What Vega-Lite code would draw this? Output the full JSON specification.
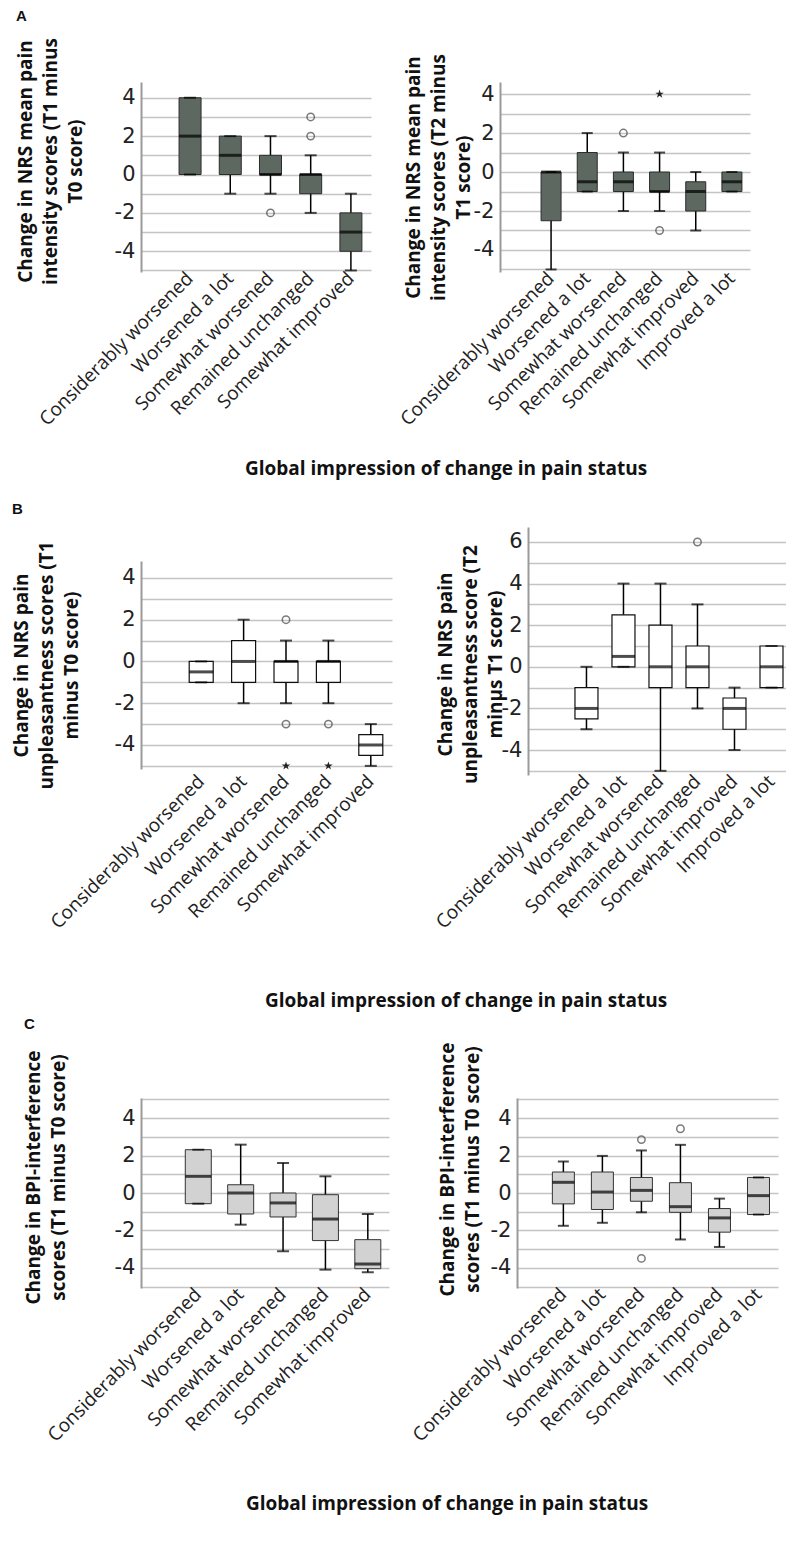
{
  "$schema": "https://vega.github.io/schema/vega-lite/v6.json",
  "padding": {"left": 12, "top": 8, "right": 0, "bottom": 0},
  "config": {
    "locale": {"number": {"decimal": ".", "thousands": ",", "grouping": [3], "currency": ["$", ""], "minus": "-"}},
    "view": {"stroke": null},
    "axisY": {"labelFont": "DejaVu Sans", "labelFontSize": 21, "labelColor": "#222", "labelPadding": 6, "labelOverlap": false, "ticks": false, "tickCount": 30, "format": "d", "domainColor": "#9a9a9a", "domainWidth": 2, "gridColor": "#c4c4c4", "gridWidth": 1.5, "titleFont": "Open Sans", "titleFontSize": 19, "titleFontWeight": "bold", "titleColor": "#111", "titleLineHeight": 25, "titlePadding": 14, "titleLimit": 1000},
    "axisX": {"labelFont": "Open Sans", "labelFontSize": 19, "labelColor": "#222", "labelAngle": -45, "labelAlign": "right", "labelBaseline": "middle", "labelPadding": 3, "labelLimit": 400, "labelOverlap": false, "ticks": false, "domain": false, "grid": false},
    "title": {"font": "Open Sans", "fontWeight": "bold", "fontSize": 19, "color": "#111"}
  },
  "datasets": {
    "aL": [
      {"cat": "Considerably worsened", "lower": 0, "q1": 0, "median": 2, "q3": 4, "upper": 4},
      {"cat": "Worsened a lot", "lower": -1, "q1": 0, "median": 1, "q3": 2, "upper": 2},
      {"cat": "Somewhat worsened", "lower": -1, "q1": 0, "median": 0, "q3": 1, "upper": 2},
      {"cat": "Remained unchanged", "lower": -2, "q1": -1, "median": 0, "q3": 0, "upper": 1},
      {"cat": "Somewhat improved", "lower": -5, "q1": -4, "median": -3, "q3": -2, "upper": -1}
    ],
    "aLo": [
      {"cat": "Somewhat worsened", "value": -2, "kind": "o"},
      {"cat": "Remained unchanged", "value": 2, "kind": "o"},
      {"cat": "Remained unchanged", "value": 3, "kind": "o"}
    ],
    "aR": [
      {"cat": "Considerably worsened", "lower": -5, "q1": -2.5, "median": 0, "q3": 0, "upper": 0},
      {"cat": "Worsened a lot", "lower": -1, "q1": -1, "median": -0.5, "q3": 1, "upper": 2},
      {"cat": "Somewhat worsened", "lower": -2, "q1": -1, "median": -0.5, "q3": 0, "upper": 1},
      {"cat": "Remained unchanged", "lower": -2, "q1": -1, "median": -1, "q3": 0, "upper": 1},
      {"cat": "Somewhat improved", "lower": -3, "q1": -2, "median": -1, "q3": -0.5, "upper": 0},
      {"cat": "Improved a lot", "lower": -1, "q1": -1, "median": -0.5, "q3": 0, "upper": 0}
    ],
    "aRo": [
      {"cat": "Somewhat worsened", "value": 2, "kind": "o"},
      {"cat": "Remained unchanged", "value": -3, "kind": "o"},
      {"cat": "Remained unchanged", "value": 4, "kind": "x"}
    ],
    "bL": [
      {"cat": "Considerably worsened", "lower": -1, "q1": -1, "median": -0.5, "q3": 0, "upper": 0},
      {"cat": "Worsened a lot", "lower": -2, "q1": -1, "median": 0, "q3": 1, "upper": 2},
      {"cat": "Somewhat worsened", "lower": -2, "q1": -1, "median": 0, "q3": 0, "upper": 1},
      {"cat": "Remained unchanged", "lower": -2, "q1": -1, "median": 0, "q3": 0, "upper": 1},
      {"cat": "Somewhat improved", "lower": -5, "q1": -4.5, "median": -4, "q3": -3.5, "upper": -3}
    ],
    "bLo": [
      {"cat": "Somewhat worsened", "value": 2, "kind": "o"},
      {"cat": "Somewhat worsened", "value": -3, "kind": "o"},
      {"cat": "Somewhat worsened", "value": -5, "kind": "x"},
      {"cat": "Remained unchanged", "value": -3, "kind": "o"},
      {"cat": "Remained unchanged", "value": -5, "kind": "x"}
    ],
    "bR": [
      {"cat": "Considerably worsened", "lower": -3, "q1": -2.5, "median": -2, "q3": -1, "upper": 0},
      {"cat": "Worsened a lot", "lower": 0, "q1": 0, "median": 0.5, "q3": 2.5, "upper": 4},
      {"cat": "Somewhat worsened", "lower": -5, "q1": -1, "median": 0, "q3": 2, "upper": 4},
      {"cat": "Remained unchanged", "lower": -2, "q1": -1, "median": 0, "q3": 1, "upper": 3},
      {"cat": "Somewhat improved", "lower": -4, "q1": -3, "median": -2, "q3": -1.5, "upper": -1},
      {"cat": "Improved a lot", "lower": -1, "q1": -1, "median": 0, "q3": 1, "upper": 1}
    ],
    "bRo": [
      {"cat": "Remained unchanged", "value": 6, "kind": "o"}
    ],
    "cL": [
      {"cat": "Considerably worsened", "lower": -0.57, "q1": -0.57, "median": 0.89, "q3": 2.31, "upper": 2.31},
      {"cat": "Worsened a lot", "lower": -1.69, "q1": -1.12, "median": 0, "q3": 0.44, "upper": 2.58},
      {"cat": "Somewhat worsened", "lower": -3.11, "q1": -1.28, "median": -0.53, "q3": 0, "upper": 1.6},
      {"cat": "Remained unchanged", "lower": -4.09, "q1": -2.54, "median": -1.39, "q3": -0.09, "upper": 0.89},
      {"cat": "Somewhat improved", "lower": -4.23, "q1": -4.04, "median": -3.79, "q3": -2.49, "upper": -1.12}
    ],
    "cR": [
      {"cat": "Considerably worsened", "lower": -1.75, "q1": -0.58, "median": 0.57, "q3": 1.12, "upper": 1.68},
      {"cat": "Worsened a lot", "lower": -1.59, "q1": -0.88, "median": 0.05, "q3": 1.12, "upper": 1.98},
      {"cat": "Somewhat worsened", "lower": -1.03, "q1": -0.44, "median": 0.14, "q3": 0.83, "upper": 2.27},
      {"cat": "Remained unchanged", "lower": -2.48, "q1": -1.03, "median": -0.73, "q3": 0.55, "upper": 2.57},
      {"cat": "Somewhat improved", "lower": -2.88, "q1": -2.09, "median": -1.33, "q3": -0.83, "upper": -0.3},
      {"cat": "Improved a lot", "lower": -1.15, "q1": -1.15, "median": -0.14, "q3": 0.83, "upper": 0.83}
    ],
    "cRo": [
      {"cat": "Somewhat worsened", "value": 2.85, "kind": "o"},
      {"cat": "Somewhat worsened", "value": -3.49, "kind": "o"},
      {"cat": "Remained unchanged", "value": 3.43, "kind": "o"}
    ]
  },
  "spacing": 4,
  "vconcat": [
    {
      "spacing": 22,
      "vconcat": [
        {
          "title": {"text": "A", "anchor": "start", "frame": "bounds", "font": "Liberation Sans", "fontSize": 15, "fontWeight": "bold", "offset": 14},
          "vconcat": [
            {
              "title": {"text": "Global impression of change in pain status", "orient": "bottom", "anchor": "middle", "frame": "group", "dx": 305, "offset": 31},
              "bounds": "flush",
              "spacing": 129,
              "hconcat": [
                {
                  "width": 230, "height": 190,
                  "data": {"name": "aL"},
                  "encoding": {"x": {"field": "cat", "type": "nominal", "title": null, "scale": {"domain": ["Considerably worsened", "Worsened a lot", "Somewhat worsened", "Remained unchanged", "Somewhat improved"], "paddingInner": 0, "paddingOuter": 0.36, "align": 1}}},
                  "layer": [
                    {"mark": {"type": "rule", "color": "#000", "strokeWidth": 1.5},
                     "encoding": {"y": {"field": "lower", "type": "quantitative", "scale": {"domain": [-5.08, 4.82], "nice": false, "zero": false},
                       "axis": {"title": ["Change in NRS mean pain", "intensity scores (T1 minus", "T0 score)"], "titleY": 79, "titlePadding": 29, "values": [-5, -4, -3, -2, -1, 0, 1, 2, 3, 4], "tickCount": 30, "labelExpr": "datum.value % 2 == 0 ? datum.label : ''"}},
                       "y2": {"field": "upper"}}},
                    {"mark": {"type": "bar", "size": 22, "fill": "#5d6861", "stroke": "#2b2b2b", "strokeWidth": 1},
                     "encoding": {"y": {"field": "q1", "type": "quantitative"}, "y2": {"field": "q3"}}},
                    {"mark": {"type": "tick", "size": 22, "thickness": 3, "color": "#000"},
                     "encoding": {"y": {"field": "median", "type": "quantitative"}}},
                    {"mark": {"type": "tick", "size": 12, "thickness": 2, "color": "#000"},
                     "encoding": {"y": {"field": "lower", "type": "quantitative"}}},
                    {"mark": {"type": "tick", "size": 12, "thickness": 2, "color": "#000"},
                     "encoding": {"y": {"field": "upper", "type": "quantitative"}}},
                    {"data": {"name": "aLo"},
                     "mark": {"type": "point", "shape": "circle", "filled": false, "size": 55, "stroke": "#444", "strokeWidth": 1.5},
                     "encoding": {"y": {"field": "value", "type": "quantitative"}}}
                  ]
                },
                {
                  "width": 250, "height": 190,
                  "data": {"name": "aR"},
                  "encoding": {"x": {"field": "cat", "type": "nominal", "title": null, "scale": {"domain": ["Considerably worsened", "Worsened a lot", "Somewhat worsened", "Remained unchanged", "Somewhat improved", "Improved a lot"], "paddingInner": 0, "paddingOuter": 0.456, "align": 1}}},
                  "layer": [
                    {"mark": {"type": "rule", "color": "#000", "strokeWidth": 1.5},
                     "encoding": {"y": {"field": "lower", "type": "quantitative", "scale": {"domain": [-5.13, 4.62], "nice": false, "zero": false},
                       "axis": {"title": ["Change in NRS mean pain", "intensity scores (T2 minus", "T1 score)"], "titlePadding": 0, "values": [-5, -4, -3, -2, -1, 0, 1, 2, 3, 4], "tickCount": 30, "labelExpr": "datum.value % 2 == 0 ? datum.label : ''"}},
                       "y2": {"field": "upper"}}},
                    {"mark": {"type": "bar", "size": 20, "fill": "#5d6861", "stroke": "#2b2b2b", "strokeWidth": 1},
                     "encoding": {"y": {"field": "q1", "type": "quantitative"}, "y2": {"field": "q3"}}},
                    {"mark": {"type": "tick", "size": 20, "thickness": 3, "color": "#000"},
                     "encoding": {"y": {"field": "median", "type": "quantitative"}}},
                    {"mark": {"type": "tick", "size": 11, "thickness": 2, "color": "#000"},
                     "encoding": {"y": {"field": "lower", "type": "quantitative"}}},
                    {"mark": {"type": "tick", "size": 11, "thickness": 2, "color": "#000"},
                     "encoding": {"y": {"field": "upper", "type": "quantitative"}}},
                    {"data": {"name": "aRo"}, "transform": [{"filter": "datum.kind === 'o'"}],
                     "mark": {"type": "point", "shape": "circle", "filled": false, "size": 55, "stroke": "#444", "strokeWidth": 1.5},
                     "encoding": {"y": {"field": "value", "type": "quantitative"}}},
                    {"data": {"name": "aRo"}, "transform": [{"filter": "datum.kind === 'x'"}],
                     "mark": {"type": "point", "shape": "M0,-1L0.2245,-0.309L0.951,-0.309L0.363,0.118L0.588,0.809L0,0.382L-0.588,0.809L-0.363,0.118L-0.951,-0.309L-0.2245,-0.309Z", "filled": true, "size": 80, "color": "#222", "opacity": 1},
                     "encoding": {"y": {"field": "value", "type": "quantitative"}}}
                  ]
                }
              ]
            }
          ]
        },
        {
          "title": {"text": "B", "anchor": "start", "frame": "bounds", "font": "Liberation Sans", "fontSize": 15, "fontWeight": "bold", "offset": 10},
          "vconcat": [
            {
              "title": {"text": "Global impression of change in pain status", "orient": "bottom", "anchor": "middle", "frame": "group", "dx": 325, "offset": 60},
              "bounds": "flush",
              "spacing": 136,
              "hconcat": [
                {
                  "width": 251, "height": 248,
                  "data": {"name": "bL"},
                  "encoding": {"x": {"field": "cat", "type": "nominal", "title": null, "scale": {"domain": ["Considerably worsened", "Worsened a lot", "Somewhat worsened", "Remained unchanged", "Somewhat improved"], "paddingInner": 0, "paddingOuter": 0.46, "align": 1}}},
                  "layer": [
                    {"mark": {"type": "rule", "color": "#000", "strokeWidth": 1.5},
                     "encoding": {"y": {"field": "lower", "type": "quantitative", "scale": {"domain": [-5.15, 4.81], "range": [242, 34], "nice": false, "zero": false},
                       "axis": {"title": ["Change in NRS pain", "unpleasantness scores (T1", "minus T0 score)"], "titlePadding": 33, "values": [-5, -4, -3, -2, -1, 0, 1, 2, 3, 4], "tickCount": 30, "labelExpr": "datum.value % 2 == 0 ? datum.label : ''"}},
                       "y2": {"field": "upper"}}},
                    {"mark": {"type": "bar", "size": 24, "fill": "#ffffff", "stroke": "#111", "strokeWidth": 1.2},
                     "encoding": {"y": {"field": "q1", "type": "quantitative"}, "y2": {"field": "q3"}}},
                    {"mark": {"type": "tick", "size": 24, "thickness": 3, "color": "#000"},
                     "encoding": {"y": {"field": "median", "type": "quantitative"}}},
                    {"mark": {"type": "tick", "size": 12, "thickness": 2, "color": "#000"},
                     "encoding": {"y": {"field": "lower", "type": "quantitative"}}},
                    {"mark": {"type": "tick", "size": 12, "thickness": 2, "color": "#000"},
                     "encoding": {"y": {"field": "upper", "type": "quantitative"}}},
                    {"data": {"name": "bLo"}, "transform": [{"filter": "datum.kind === 'o'"}],
                     "mark": {"type": "point", "shape": "circle", "filled": false, "size": 55, "stroke": "#444", "strokeWidth": 1.5},
                     "encoding": {"y": {"field": "value", "type": "quantitative"}}},
                    {"data": {"name": "bLo"}, "transform": [{"filter": "datum.kind === 'x'"}],
                     "mark": {"type": "point", "shape": "M0,-1L0.2245,-0.309L0.951,-0.309L0.363,0.118L0.588,0.809L0,0.382L-0.588,0.809L-0.363,0.118L-0.951,-0.309L-0.2245,-0.309Z", "filled": true, "size": 80, "color": "#222", "opacity": 1},
                     "encoding": {"y": {"field": "value", "type": "quantitative"}}}
                  ]
                },
                {
                  "width": 262, "height": 248,
                  "data": {"name": "bR"},
                  "encoding": {"x": {"field": "cat", "type": "nominal", "title": null, "scale": {"domain": ["Considerably worsened", "Worsened a lot", "Somewhat worsened", "Remained unchanged", "Somewhat improved", "Improved a lot"], "paddingInner": 0, "paddingOuter": 0.54, "align": 1}}},
                  "layer": [
                    {"mark": {"type": "rule", "color": "#000", "strokeWidth": 1.5},
                     "encoding": {"y": {"field": "lower", "type": "quantitative", "scale": {"domain": [-5.2, 6.72], "nice": false, "zero": false},
                       "axis": {"title": ["Change in NRS pain", "unpleasantness score (T2", "minμs T1 score)"], "titleY": 137, "titlePadding": -4, "values": [-5, -4, -3, -2, -1, 0, 1, 2, 3, 4, 5, 6], "tickCount": 30, "labelExpr": "datum.value % 2 == 0 ? datum.label : ''"}},
                       "y2": {"field": "upper"}}},
                    {"mark": {"type": "bar", "size": 23, "fill": "#ffffff", "stroke": "#111", "strokeWidth": 1.2},
                     "encoding": {"y": {"field": "q1", "type": "quantitative"}, "y2": {"field": "q3"}}},
                    {"mark": {"type": "tick", "size": 23, "thickness": 3, "color": "#000"},
                     "encoding": {"y": {"field": "median", "type": "quantitative"}}},
                    {"mark": {"type": "tick", "size": 12, "thickness": 2, "color": "#000"},
                     "encoding": {"y": {"field": "lower", "type": "quantitative"}}},
                    {"mark": {"type": "tick", "size": 12, "thickness": 2, "color": "#000"},
                     "encoding": {"y": {"field": "upper", "type": "quantitative"}}},
                    {"data": {"name": "bRo"},
                     "mark": {"type": "point", "shape": "circle", "filled": false, "size": 55, "stroke": "#444", "strokeWidth": 1.5},
                     "encoding": {"y": {"field": "value", "type": "quantitative"}}}
                  ]
                }
              ]
            }
          ]
        }
      ]
    },
    {
      "title": {"text": "C", "anchor": "start", "frame": "bounds", "font": "Liberation Sans", "fontSize": 15, "fontWeight": "bold", "offset": 10},
      "vconcat": [
        {
          "title": {"text": "Global impression of change in pain status", "orient": "bottom", "anchor": "middle", "frame": "group", "dx": 306, "offset": 50},
          "bounds": "flush",
          "spacing": 128,
          "hconcat": [
            {
              "width": 248, "height": 190,
              "data": {"name": "cL"},
              "encoding": {"x": {"field": "cat", "type": "nominal", "title": null, "scale": {"domain": ["Considerably worsened", "Worsened a lot", "Somewhat worsened", "Remained unchanged", "Somewhat improved"], "paddingInner": 0, "paddingOuter": 0.426, "align": 1}}},
              "layer": [
                {"mark": {"type": "rule", "color": "#000", "strokeWidth": 1.5},
                 "encoding": {"y": {"field": "lower", "type": "quantitative", "scale": {"domain": [-5.07, 5.07], "nice": false, "zero": false},
                   "axis": {"title": ["Change in BPI-interference", "scores (T1 minus T0 score)"], "titleY": 79, "titlePadding": 46, "values": [-5, -4, -3, -2, -1, 0, 1, 2, 3, 4, 5], "tickCount": 30, "labelExpr": "datum.value % 2 == 0 ? datum.label : ''"}},
                   "y2": {"field": "upper"}}},
                {"mark": {"type": "bar", "size": 26, "fill": "#d2d2d2", "stroke": "#333", "strokeWidth": 1},
                 "encoding": {"y": {"field": "q1", "type": "quantitative"}, "y2": {"field": "q3"}}},
                {"mark": {"type": "tick", "size": 26, "thickness": 3, "color": "#000"},
                 "encoding": {"y": {"field": "median", "type": "quantitative"}}},
                {"mark": {"type": "tick", "size": 12, "thickness": 2, "color": "#000"},
                 "encoding": {"y": {"field": "lower", "type": "quantitative"}}},
                {"mark": {"type": "tick", "size": 12, "thickness": 2, "color": "#000"},
                 "encoding": {"y": {"field": "upper", "type": "quantitative"}}}
              ]
            },
            {
              "width": 261, "height": 190,
              "data": {"name": "cR"},
              "encoding": {"x": {"field": "cat", "type": "nominal", "title": null, "scale": {"domain": ["Considerably worsened", "Worsened a lot", "Somewhat worsened", "Remained unchanged", "Somewhat improved", "Improved a lot"], "paddingInner": 0, "paddingOuter": 0.344, "align": 1}}},
              "layer": [
                {"mark": {"type": "rule", "color": "#000", "strokeWidth": 1.5},
                 "encoding": {"y": {"field": "lower", "type": "quantitative", "scale": {"domain": [-5.07, 5.07], "nice": false, "zero": false},
                   "axis": {"title": ["Change in BPI-interference", "scores (T1 minus T0 score)"], "titleY": 71, "titlePadding": 8, "values": [-5, -4, -3, -2, -1, 0, 1, 2, 3, 4, 5], "tickCount": 30, "labelExpr": "datum.value % 2 == 0 ? datum.label : ''"}},
                   "y2": {"field": "upper"}}},
                {"mark": {"type": "bar", "size": 22, "fill": "#d2d2d2", "stroke": "#333", "strokeWidth": 1},
                 "encoding": {"y": {"field": "q1", "type": "quantitative"}, "y2": {"field": "q3"}}},
                {"mark": {"type": "tick", "size": 22, "thickness": 3, "color": "#000"},
                 "encoding": {"y": {"field": "median", "type": "quantitative"}}},
                {"mark": {"type": "tick", "size": 11, "thickness": 2, "color": "#000"},
                 "encoding": {"y": {"field": "lower", "type": "quantitative"}}},
                {"mark": {"type": "tick", "size": 11, "thickness": 2, "color": "#000"},
                 "encoding": {"y": {"field": "upper", "type": "quantitative"}}},
                {"data": {"name": "cRo"},
                 "mark": {"type": "point", "shape": "circle", "filled": false, "size": 55, "stroke": "#444", "strokeWidth": 1.5},
                 "encoding": {"y": {"field": "value", "type": "quantitative"}}}
              ]
            }
          ]
        }
      ]
    }
  ]
}
